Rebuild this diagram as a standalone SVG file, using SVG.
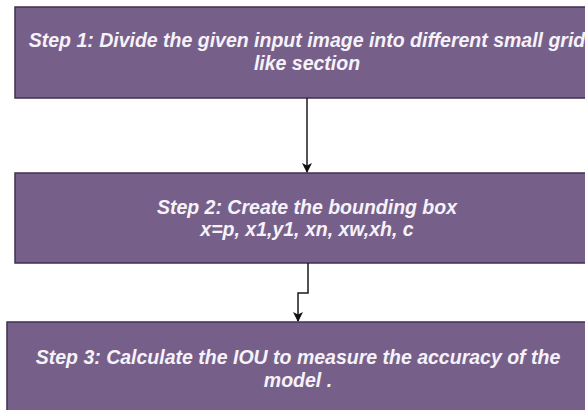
<svg xmlns="http://www.w3.org/2000/svg" width="585" height="410" viewBox="0 0 585 410">
<defs>
<style>
.box{fill:#76608a;stroke:#3f3050;stroke-width:1.5}
.t{font-family:"Liberation Sans",Arial,sans-serif;font-weight:bold;font-style:italic;font-size:19.5px;fill:#f6f2fa;text-anchor:middle}
.c{fill:none;stroke:#1a1a1a;stroke-width:1.5}
</style>
<marker id="ah" markerWidth="10" markerHeight="10" refX="9" refY="5" orient="auto" markerUnits="userSpaceOnUse">
<path d="M0,0 L10,5 L0,10 L2.5,5 Z" fill="#111"/>
</marker>
</defs>
<rect width="585" height="410" fill="#ffffff"/>
<g id="step1">
<rect class="box" x="15" y="7" width="584" height="91"/>
<text class="t" x="307" y="47">Step 1: Divide the given input image into different small grid</text>
<text class="t" x="307" y="70">like section</text>
</g>
<g id="step2">
<rect class="box" x="15" y="173" width="584" height="90"/>
<text class="t" x="307" y="214">Step 2: Create the bounding box</text>
<text class="t" x="307" y="236">x=p, x1,y1, xn, xw,xh, c</text>
</g>
<g id="step3">
<rect class="box" x="7" y="322" width="582" height="100"/>
<text class="t" x="298" y="364">Step 3: Calculate the IOU to measure the accuracy of the</text>
<text class="t" x="298" y="387">model .</text>
</g>
<g id="connectors">
<path class="c" d="M307,98 L307,172" marker-end="url(#ah)"/>
<path class="c" d="M308,263 L308,293 L298,293 L298,321" marker-end="url(#ah)"/>
</g>
</svg>
